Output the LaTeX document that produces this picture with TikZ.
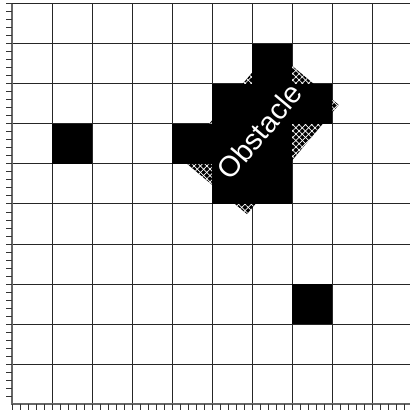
\documentclass[tikz,border=0pt]{standalone}
\usepackage{fontspec}
\setmainfont{Liberation Sans}
\usetikzlibrary{patterns.meta}
\begin{document}
\begin{tikzpicture}[x=1pt,y=-1pt,
  gridline/.style={line width=1pt,black!85},
  axisline/.style={line width=1.3pt,black!60},
  tickline/.style={line width=1pt,black!80},
  cell/.style={fill=black},
  hatchbox/.style={rotate=50,minimum width=142.6pt,minimum height=87pt,inner sep=0pt,
    preaction={fill=black},
    pattern={Lines[angle=45,distance=4.5pt,line width=0.7pt]},pattern color=white,
    postaction={pattern={Lines[angle=-45,distance=4.5pt,line width=0.7pt]},pattern color=white}},
  obstext/.style={rotate=50,text=white,font=\fontsize{29}{30}\selectfont,inner sep=0pt}]
\useasboundingbox (0,0) rectangle (410,411);
\fill[white] (0,0) rectangle (410,411);
% grid
\foreach \i in {1,...,9} \draw[gridline] (12+40*\i,4) -- (12+40*\i,404);
\foreach \j in {0,...,9} \draw[gridline] (12,4+40*\j) -- (410,4+40*\j);
% axes
\draw[axisline] (12,4) -- (12,404) -- (410,404);
\foreach \k in {0,...,49} \draw[tickline] (6,4+8*\k) -- (12,4+8*\k);
\foreach \k in {0,...,49} \draw[tickline] (12+8*\k,404) -- (12+8*\k,410);
% hatched rotated obstacle
\node[hatchbox] (obs) at (259.5,131.5) {};
% black cells
\fill[cell] (52,124) rectangle (92,164);
\fill[cell] (252,44) rectangle (292,84);
\fill[cell] (212,84) rectangle (332,124);
\fill[cell] (172,124) rectangle (292,164);
\fill[cell] (212,164) rectangle (292,204);
\fill[cell] (292,284) rectangle (332,324);
% label
\node[obstext] (lbl) at (obs.center) {Obstacle};
\end{tikzpicture}
\end{document}
